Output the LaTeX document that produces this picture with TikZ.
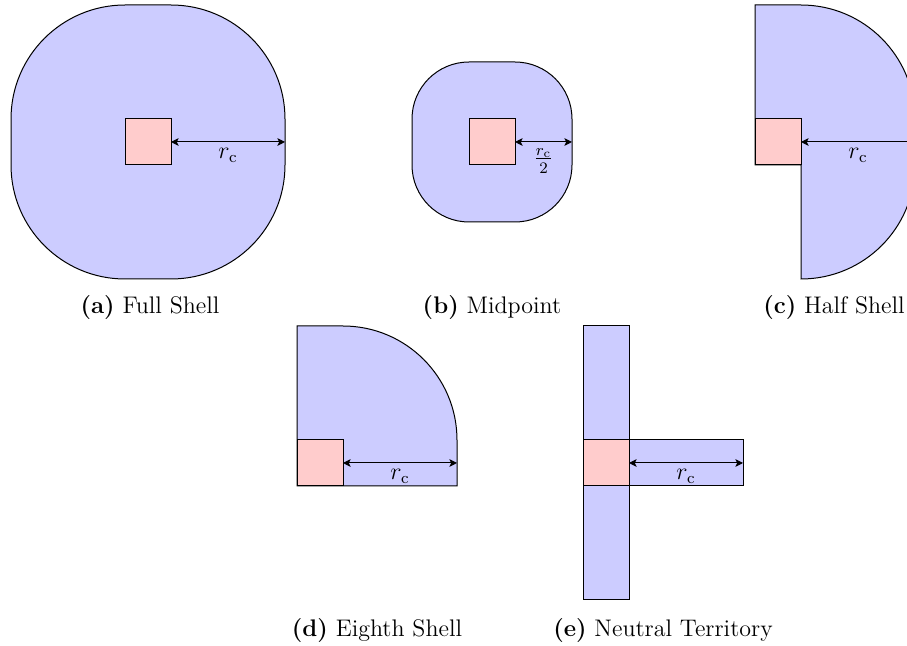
\documentclass[tikz,border=0pt]{standalone}
\usetikzlibrary{arrows.meta}
\begin{document}
\begin{tikzpicture}[x=0.5pt,y=-0.5pt,
  shell/.style={draw=black,fill=blue!20,line width=0.5pt,line join=miter},
  cell/.style={draw=black,fill=red!20,line width=0.5pt,minimum size=23pt,inner sep=0pt,outer sep=0pt},
  tip/.tip={Stealth[length=3.8pt,width=3.8pt,inset=0.9pt]},
  dim/.style={line width=0.5pt,tip-tip},
  dimlabel/.style={below,inner sep=3pt,font=\fontsize{12}{14}\selectfont},
  captext/.style={font=\fontsize{12}{14}\selectfont,inner sep=0pt}]
\useasboundingbox (0,0) rectangle (907,646);
% (a) Full shell
\draw[shell] (125,5) -- (171,5) arc[start angle=-90,end angle=0,radius=114]
  -- (285,165) arc[start angle=0,end angle=90,radius=114]
  -- (125,279) arc[start angle=90,end angle=180,radius=114]
  -- (11,119) arc[start angle=180,end angle=270,radius=114] -- cycle;
\node[cell] (sqa) at (148,142) {};
\coordinate (ea) at (285,142);
\draw[dim] (sqa.east) -- (ea) node[midway,dimlabel] {$r_{\mathrm{c}}$};
\node[captext] (capa) at (150,308) {\textbf{(a)} Full Shell};
% (b) Midpoint
\draw[shell] (469,62) -- (515,62) arc[start angle=-90,end angle=0,radius=57]
  -- (572,165) arc[start angle=0,end angle=90,radius=57]
  -- (469,222) arc[start angle=90,end angle=180,radius=57]
  -- (412,119) arc[start angle=180,end angle=270,radius=57] -- cycle;
\node[cell] (sqb) at (492,142) {};
\coordinate (eb) at (572,142);
\draw[dim] (sqb.east) -- (eb) node[midway,dimlabel] {$\frac{r_{\mathrm{c}}}{2}$};
\node[captext] (capb) at (492,308) {\textbf{(b)} Midpoint};
% (c) Half shell
\draw[shell] (755,5) -- (801,5) arc[start angle=-90,end angle=0,radius=114]
  -- (915,165) arc[start angle=0,end angle=90,radius=114]
  -- (801,165) -- (755,165) -- cycle;
\node[cell] (sqc) at (778,142) {};
\coordinate (ec) at (915,142);
\draw[dim] (sqc.east) -- (ec) node[midway,dimlabel] {$r_{\mathrm{c}}$};
\node[captext] (capc) at (834,308) {\textbf{(c)} Half Shell};
% (d) Eighth shell
\draw[shell] (297,486) -- (297,326) -- (343,326) arc[start angle=-90,end angle=0,radius=114]
  -- (457,486) -- cycle;
\node[cell] (sqd) at (320,463) {};
\coordinate (ed) at (457,463);
\draw[dim] (sqd.east) -- (ed) node[midway,dimlabel] {$r_{\mathrm{c}}$};
\node[captext] (capd) at (377,631) {\textbf{(d)} Eighth Shell};
% (e) Neutral territory
\draw[shell] (583,326) rectangle (629,600);
\draw[shell] (629,440) rectangle (743,486);
\node[cell] (sqe) at (606,463) {};
\coordinate (ee) at (743,463);
\draw[dim] (sqe.east) -- (ee) node[midway,dimlabel] {$r_{\mathrm{c}}$};
\node[captext] (cape) at (663,631) {\textbf{(e)} Neutral Territory};
\end{tikzpicture}
\end{document}
